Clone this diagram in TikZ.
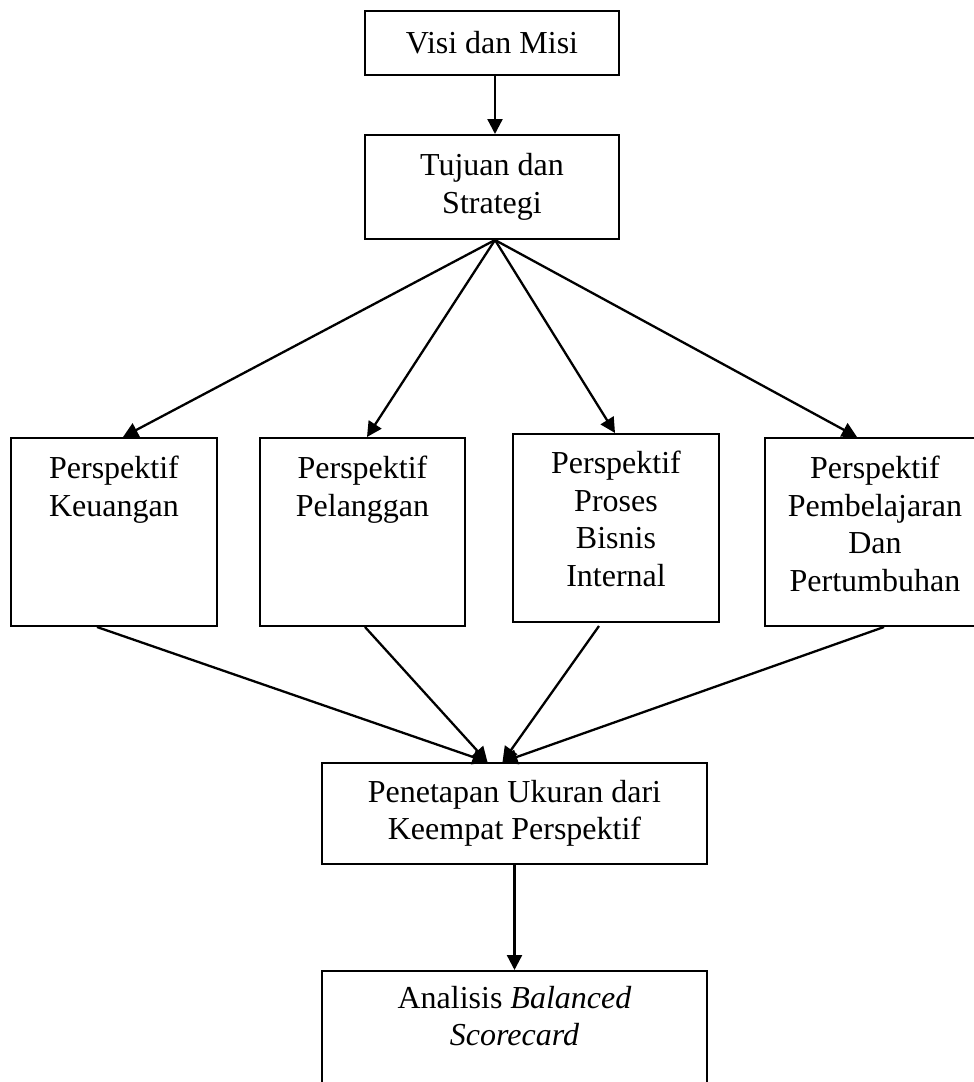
\documentclass[tikz,border=0pt]{standalone}
\usepackage{fontspec}
\setmainfont{Liberation Serif}
\usetikzlibrary{arrows.meta}
\begin{document}
\begin{tikzpicture}[x=1pt,y=-1pt,
  every node/.style={font=\fontsize{32}{37.5}\selectfont},
  box/.style={draw,line width=2pt,rectangle,inner sep=0pt,align=center},
  txt/.style={inner sep=0pt,align=center,anchor=north},
  conn/.style={line width=2.3pt,-{Triangle[length=15pt,width=15pt]}}]
\path[use as bounding box] (0,0) rectangle (974,1082);
\clip (0,0) rectangle (974,1082);
% top boxes
\node[box,minimum width=254pt,minimum height=64pt] (visi) at (492,43) {Visi dan Misi};
\node[box,minimum width=254pt,minimum height=104pt] (tuj) at (492,187) {Tujuan dan\\Strategi};
% perspective boxes
\node[box,minimum width=206pt,minimum height=188pt] (keu) at (114,532) {};
\node[box,minimum width=205pt,minimum height=188pt] (pel) at (362.5,532) {};
\node[box,minimum width=206pt,minimum height=188pt] (pro) at (616,528) {};
\node[box,minimum width=220pt,minimum height=188pt] (pem) at (875,532) {};
\node[txt] (tkeu) at ([yshift=-19pt]keu.north) {Perspektif\\Keuangan};
\node[txt] (tpel) at ([yshift=-19pt]pel.north) {Perspektif\\Pelanggan};
\node[txt] (tpro) at ([yshift=-18pt]pro.north) {Perspektif\\Proses\\Bisnis\\Internal};
\node[txt] (tpem) at ([yshift=-19pt]pem.north) {Perspektif\\Pembelajaran\\Dan\\Pertumbuhan};
% lower boxes
\node[box,minimum width=385pt,minimum height=101pt] (pen) at (514.5,813.5) {Penetapan Ukuran dari\\Keempat Perspektif};
\node[box,minimum width=385pt,minimum height=124pt] (ana) at (514.5,1033) {};
\node[txt] (tana) at ([yshift=-16pt]ana.north) {Analisis \textit{Balanced}\\\textit{Scorecard}};
% connectors
\draw[conn] ([xshift=3pt]visi.south) -- ([xshift=3pt]tuj.north);
\coordinate (apex) at ([xshift=3pt]tuj.south);
\draw[conn] (apex) -- ([xshift=9pt]keu.north);
\draw[conn] (apex) -- ([xshift=4.5pt]pel.north);
\draw[conn] (apex) -- ([xshift=-1pt]pro.north);
\draw[conn] (apex) -- ([xshift=-18pt]pem.north);
\draw[conn] ([xshift=-17pt]keu.south) -- ([xshift=-27pt]pen.north);
\draw[conn] ([xshift=2.5pt]pel.south) -- ([xshift=-27pt]pen.north);
\draw[conn] ([xshift=-17pt,yshift=-3pt]pro.south) -- ([xshift=-12pt]pen.north);
\draw[conn] ([xshift=9pt]pem.south) -- ([xshift=-12pt]pen.north);
\draw[conn] (pen.south) -- (ana.north);
\end{tikzpicture}
\end{document}
